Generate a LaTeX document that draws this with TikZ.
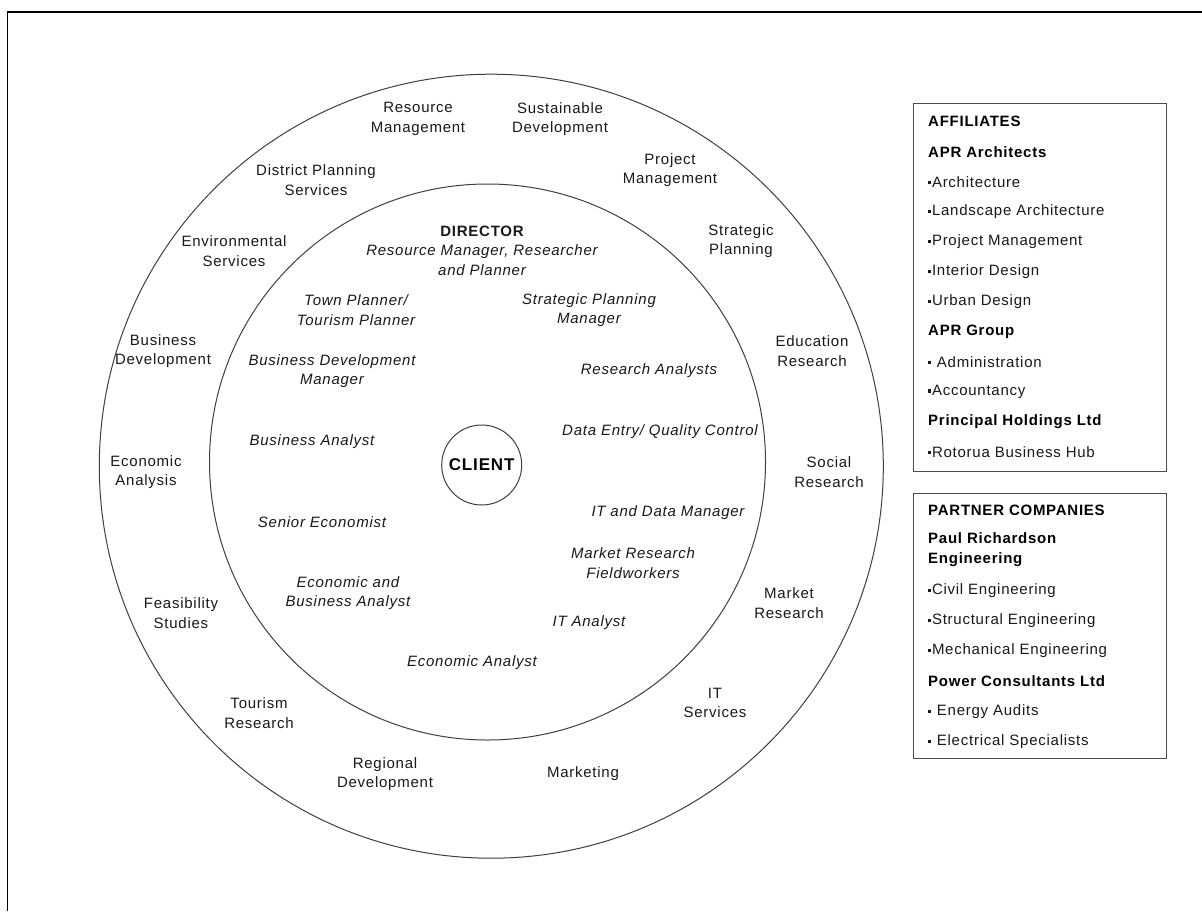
\documentclass[tikz,border=0pt]{standalone}
\usepackage{fontspec}
\setmainfont[LetterSpace=5]{Liberation Sans}
\newcommand{\bulsq}{\raisebox{3pt}{\rule{3.2pt}{3.2pt}}\hspace{0.6pt}}
\begin{document}
\begin{tikzpicture}[x=1pt,y=-1pt,
  lab/.style={font=\fontsize{15}{19.5}\selectfont, align=center, inner sep=0pt, text=black!90},
  ilab/.style={lab, font=\fontsize{15}{19.5}\selectfont\itshape},
  blab/.style={font=\fontsize{15}{19.5}\selectfont\bfseries, anchor=west, inner sep=0pt, align=left},
  rlab/.style={font=\fontsize{15}{19.5}\selectfont, anchor=west, inner sep=0pt, text=black!90},
  ring/.style={draw=black!75, line width=1pt},
  boxline/.style={draw=black!70, line width=1pt}]
\useasboundingbox (0,0) rectangle (1202,911);
\fill[white] (0,0) rectangle (1202,911);
% frame
\draw[line width=1.5pt] (7.5,911) -- (7.5,12) -- (1202,12);
% circles
\draw[ring] (491.3,466.2) circle (392);
\draw[ring] (487.5,462) circle (278);
\node[circle, draw=black!75, line width=1pt, minimum size=80pt, inner sep=0pt,
      font=\fontsize{17}{20}\selectfont\bfseries] (client) at (481.7,465) {CLIENT};
% outer ring labels
\node[lab] (o1) at (418,119) {Resource\\Management};
\node[lab] (o2) at (560,119) {Sustainable\\Development};
\node[lab] (o3) at (670,170) {Project\\Management};
\node[lab] (o4) at (316,180) {District Planning\\Services};
\node[lab] (o5) at (741,241) {Strategic\\Planning};
\node[lab] (o6) at (234,251) {Environmental\\Services};
\node[lab] (o7) at (812,351) {Education\\Research};
\node[lab] (o8) at (163,351) {Business\\Development};
\node[lab] (o9) at (146,472) {Economic\\Analysis};
\node[lab] (o10) at (829,472) {Social\\Research};
\node[lab] (o11) at (181,613) {Feasibility\\Studies};
\node[lab] (o12) at (789,603) {Market\\Research};
\node[lab] (o13) at (259,713) {Tourism\\Research};
\node[lab] (o14) at (715,703) {IT\\Services};
\node[lab] (o15) at (385,774) {Regional\\Development};
\node[lab] (o16) at (583,774) {Marketing};
% inner ring labels
\node[lab, font=\fontsize{15}{19.5}\selectfont\bfseries] (dir) at (482,231) {DIRECTOR};
\node[ilab] (i1) at (482,260) {Resource Manager, Researcher\\and Planner};
\node[ilab] (i2) at (356,310) {Town Planner/\\Tourism Planner};
\node[ilab] (i3) at (589,310) {Strategic Planning\\Manager};
\node[ilab] (i4) at (332,371) {Business Development\\Manager};
\node[ilab] (i5) at (649,371) {Research Analysts};
\node[ilab] (i6) at (312,442) {Business Analyst};
\node[ilab] (i7) at (660,432) {Data Entry/ Quality Control};
\node[ilab] (i8) at (668,513) {IT and Data Manager};
\node[ilab] (i9) at (322,522) {Senior Economist};
\node[ilab] (i10) at (633,563) {Market Research\\Fieldworkers};
\node[ilab] (i11) at (348,593) {Economic and\\Business Analyst};
\node[ilab] (i12) at (589,623) {IT Analyst};
\node[ilab] (i13) at (472,663) {Economic Analyst};
% affiliates box
\draw[boxline] (913.5,103.5) rectangle (1166.5,471);
\node[blab] (a1) at (928,121) {AFFILIATES};
\node[blab] (a2) at (928,152) {APR Architects};
\node[rlab] (a3) at (928,182) {\bulsq Architecture};
\node[rlab] (a4) at (928,212) {\bulsq Landscape Architecture};
\node[rlab] (a5) at (928,242) {\bulsq Project Management};
\node[rlab] (a6) at (928,272) {\bulsq Interior Design};
\node[rlab] (a7) at (928,302) {\bulsq Urban Design};
\node[blab] (a8) at (928,332) {APR Group};
\node[rlab] (a9) at (928,362) {\bulsq\ Administration};
\node[rlab] (a10) at (928,392) {\bulsq Accountancy};
\node[blab] (a11) at (928,422) {Principal Holdings Ltd};
\node[rlab] (a12) at (928,452) {\bulsq Rotorua Business Hub};
% partner box
\draw[boxline] (913.5,493.5) rectangle (1166.5,758);
\node[blab] (p1) at (928,510) {PARTNER COMPANIES};
\node[blab] (p2) at (928,549.5) {Paul Richardson\\Engineering};
\node[rlab] (p3) at (928,591) {\bulsq Civil Engineering};
\node[rlab] (p4) at (928,621) {\bulsq Structural Engineering};
\node[rlab] (p5) at (928,651) {\bulsq Mechanical Engineering};
\node[blab] (p6) at (928,681) {Power Consultants Ltd};
\node[rlab] (p7) at (928,712) {\bulsq\ Energy Audits};
\node[rlab] (p8) at (928,742) {\bulsq\ Electrical Specialists};
\end{tikzpicture}
\end{document}
